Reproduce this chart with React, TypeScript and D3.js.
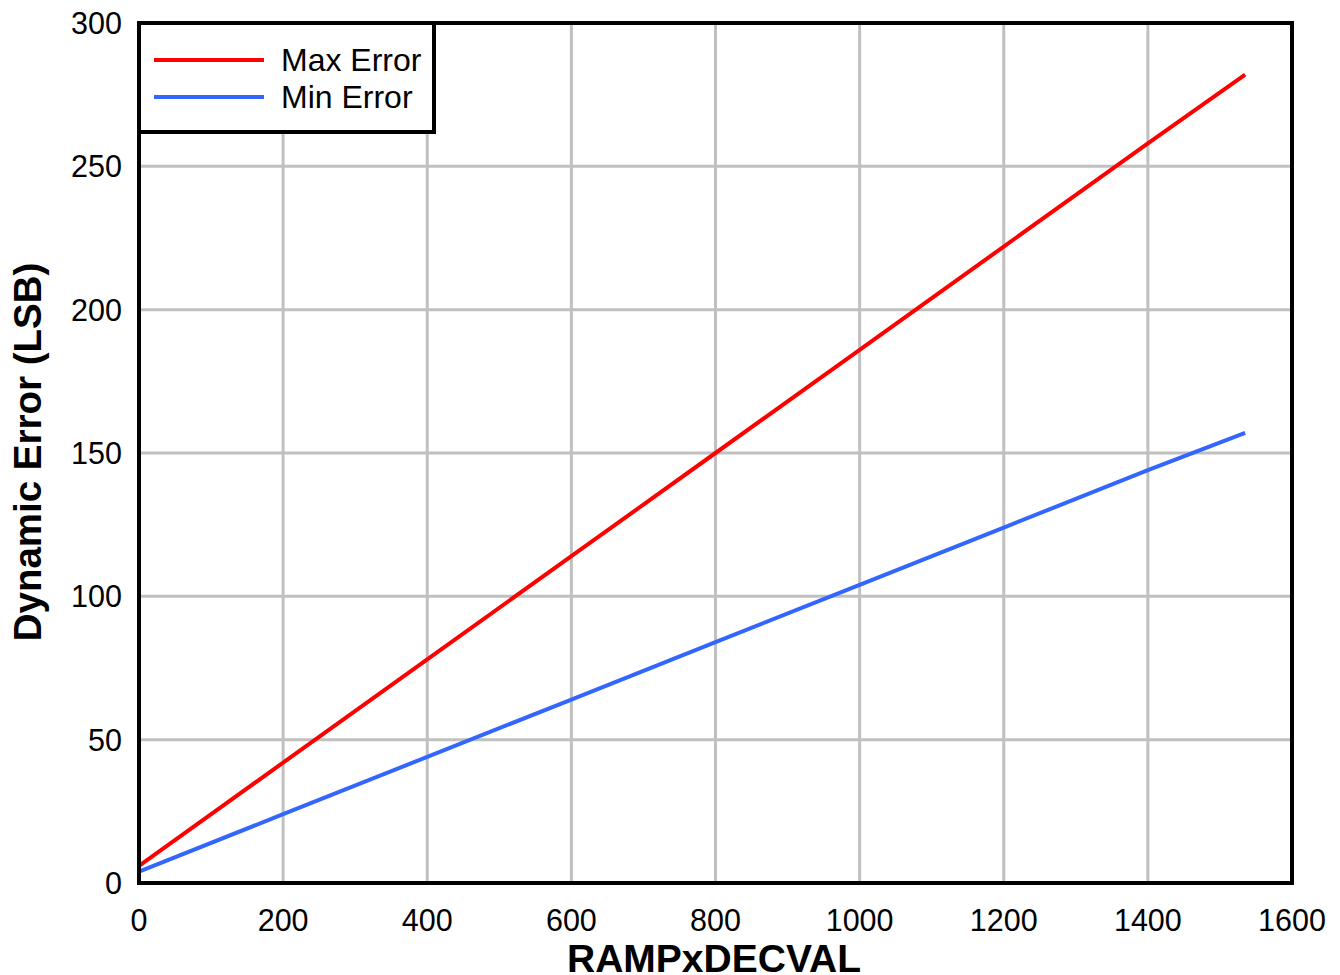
import React from "react";
import * as d3 from "d3";

const xValues = [0, 200, 400, 600, 800, 1000, 1200, 1400, 1535];
const maxError = [6, 42, 78, 114, 150, 186, 222, 258, 282];
const minError = [4, 24, 44, 64, 84, 104, 124, 144, 157];
const xTicks = [0, 200, 400, 600, 800, 1000, 1200, 1400, 1600];
const yTicks = [0, 50, 100, 150, 200, 250, 300];
const seriesNames = ["Max Error", "Min Error"];
const seriesColors = ["#ff0000", "#3366ff"];

const W = 1340, H = 975;
const L = 139, R = 1292, T = 23, B = 883;
const FONT = "'Liberation Sans', Arial, sans-serif";

export default function App() {
  const x = d3.scaleLinear().domain([0, 1600]).range([L, R]);
  const y = d3.scaleLinear().domain([0, 300]).range([B, T]);
  const line = d3.line<[number, number]>().x(d => x(d[0])).y(d => y(d[1]));
  const series = [maxError, minError].map(vals => xValues.map((v, i) => [v, vals[i]] as [number, number]));

  return (
    <svg width={W} height={H} style={{ position: "absolute", left: 0, top: 0, background: "#fff" }} fontFamily={FONT}>
      <rect x={0} y={0} width={W} height={H} fill="#fff" />
      {xTicks.map(t => (
        <line key={"gx" + t} x1={x(t)} x2={x(t)} y1={T} y2={B} stroke="#c0c0c0" strokeWidth={3} />
      ))}
      {yTicks.map(t => (
        <line key={"gy" + t} x1={L} x2={R} y1={y(t)} y2={y(t)} stroke="#c0c0c0" strokeWidth={3} />
      ))}
      {series.map((s, i) => (
        <path key={i} d={line(s) || ""} fill="none" stroke={seriesColors[i]} strokeWidth={4} />
      ))}
      <rect x={L} y={T} width={R - L} height={B - T} fill="none" stroke="#000" strokeWidth={4} />
      {/* legend */}
      <rect x={L} y={T} width={434 - L} height={132 - T} fill="#fff" stroke="#000" strokeWidth={4} />
      {seriesNames.map((n, i) => (
        <g key={n}>
          <line x1={154} x2={264} y1={60 + i * 37} y2={60 + i * 37} stroke={seriesColors[i]} strokeWidth={4} />
          <text x={281} y={60 + i * 37 + 11} fontSize={32} fill="#000">{n}</text>
        </g>
      ))}
      {xTicks.map(t => (
        <text key={"tx" + t} x={x(t)} y={931} fontSize={30.5} textAnchor="middle" fill="#000">{t}</text>
      ))}
      {yTicks.map(t => (
        <text key={"ty" + t} x={122} y={y(t) + 11} fontSize={30.5} textAnchor="end" fill="#000">{t}</text>
      ))}
      <text x={714} y={972} fontSize={39} fontWeight="bold" textAnchor="middle" fill="#000">RAMPxDECVAL</text>
      <text transform={`translate(41,452) rotate(-90)`} fontSize={38.5} fontWeight="bold" textAnchor="middle" fill="#000">Dynamic Error (LSB)</text>
    </svg>
  );
}
